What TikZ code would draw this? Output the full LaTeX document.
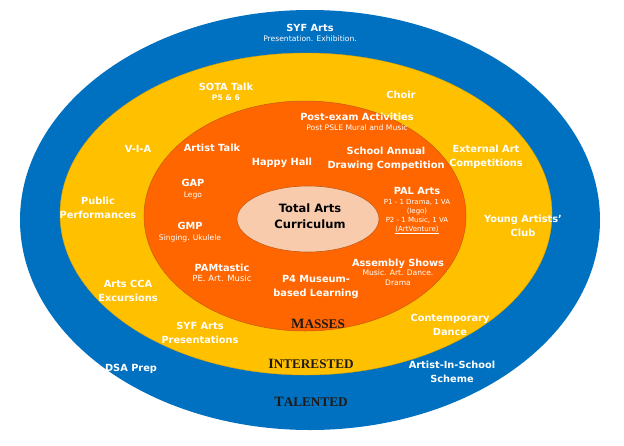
\documentclass[tikz,border=0pt]{standalone}
\usepackage{fontspec}
\setsansfont{DejaVu Sans}
\newfontfamily\lvlfont{Liberation Serif}
\usetikzlibrary{shapes.geometric}
\definecolor{talblue}{HTML}{0070C0}
\definecolor{intyel}{HTML}{FFC000}
\definecolor{masorg}{HTML}{FF6600}
\definecolor{corepeach}{HTML}{F8CBAD}
\definecolor{edgeorg}{HTML}{C55A11}
\definecolor{lvltext}{HTML}{1F1A17}
\newcommand{\subtxt}[1]{{\fontsize{7.6}{9}\selectfont\mdseries #1}}
\begin{document}
\begin{tikzpicture}[x=1pt,y=-1pt,
  ring/.style={ellipse,inner sep=0pt},
  lbl/.style={text=white,align=center,font=\sffamily\bfseries\fontsize{9.8}{14.5}\selectfont,inner sep=0pt},
  lvl/.style={text=lvltext,font=\lvlfont\bfseries\fontsize{13.2}{15}\selectfont,inner sep=0pt},
  corelbl/.style={text=black,align=center,font=\sffamily\bfseries\fontsize{11.5}{16}\selectfont,inner sep=0pt}]
\useasboundingbox (0,0) rectangle (624,445);
\fill[white] (0,0) rectangle (624,445);
% rings
\node[ring,fill=talblue,minimum width=580pt,minimum height=420pt] (talented) at (310,220) {};
\node[ring,fill=intyel,draw=intyel!85!black,line width=0.4pt,minimum width=492pt,minimum height=322pt] (interested) at (306,214) {};
\node[ring,fill=masorg,draw=edgeorg,line width=0.5pt,minimum width=322pt,minimum height=230pt] (masses) at (305,216) {};
\node[ring,fill=corepeach,draw=edgeorg,line width=0.6pt,minimum width=142pt,minimum height=66pt] (core) at (308,219) {};
% core
\node[corelbl] (tac) at (310,216) {Total Arts\\Curriculum};
% level titles
\node[lvl] (tmasses) at (318,324) {{\fontsize{14.2}{15}\selectfont M}ASSES};
\node[lvl] (tinterested) at (311,364) {{\fontsize{14.2}{15}\selectfont I}NTERESTED};
\node[lvl] (ttalented) at (311,402) {{\fontsize{14.2}{15}\selectfont T}ALENTED};
% blue ring labels
\node[lbl,align=center] (syf) at (310,33) {SYF Arts\\[-4pt]\subtxt{Presentation. Exhibition.}};
\node[lbl] (dsa) at (131,369) {DSA Prep};
\node[lbl] (ais) at (452,372) {Artist-In-School\\Scheme};
% yellow ring labels
\node[lbl] (sota) at (226,92) {SOTA Talk\\[-4pt]{\fontsize{7.6}{9}\selectfont P5 \& 6}};
\node[lbl] (choir) at (401,95) {Choir};
\node[lbl] (via) at (138,149) {V-I-A};
\node[lbl] (ext) at (486,157) {External Art\\Competitions};
\node[lbl] (pub) at (98,208) {Public\\Performances};
\node[lbl] (yac) at (523,226) {Young Artists'\\Club};
\node[lbl] (cca) at (128,291) {Arts CCA\\Excursions};
\node[lbl] (cont) at (450,325) {Contemporary\\Dance};
\node[lbl] (syfp) at (200,333) {SYF Arts\\Presentations};
% orange ring labels
\node[lbl] (post) at (357,122) {Post-exam Activities\\[-4pt]\subtxt{Post PSLE Mural and Music}};
\node[lbl] (artist) at (212,148) {Artist Talk};
\node[lbl] (happy) at (282,163) {Happy Hall};
\node[lbl] (sad) at (386,159) {School Annual\\Drawing Competition};
\node[lbl] (gap) at (193,189) {GAP\\[-4pt]\subtxt{Lego}};
\node[lbl,align=center] (pal) at (417,211) {PAL Arts\\[-5pt]{\fontsize{7}{9}\selectfont\mdseries P1 - 1 Drama, 1 VA}\\[-5.5pt]{\fontsize{7}{9}\selectfont\mdseries (lego)}\\[-5.5pt]{\fontsize{7}{9}\selectfont\mdseries P2 - 1 Music, 1 VA}\\[-5.5pt]{\fontsize{7}{9}\selectfont\mdseries \underline{(ArtVenture)}}};
\node[lbl] (gmp) at (190,232) {GMP\\[-4pt]\subtxt{Singing. Ukulele}};
\node[lbl] (pam) at (222,273) {PAMtastic\\[-4pt]{\fontsize{8.5}{10}\selectfont\mdseries PE. Art. Music}};
\node[lbl,align=center] (asm) at (398,272) {Assembly Shows\\[-5pt]\subtxt{Music. Art. Dance.}\\[-5pt]\subtxt{Drama}};
\node[lbl] (p4) at (316,287) {P4 Museum-\\based Learning};
\end{tikzpicture}
\end{document}
